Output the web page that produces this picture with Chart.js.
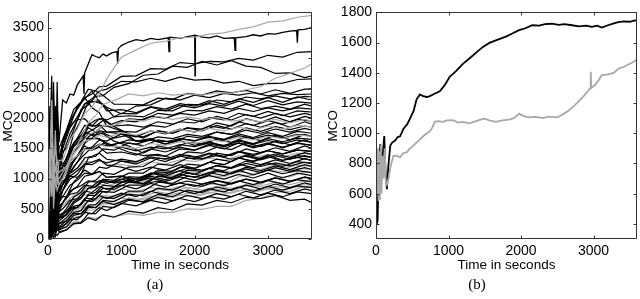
<!DOCTYPE html>
<html><head><meta charset="utf-8">
<script src="https://cdn.jsdelivr.net/npm/chart.js@4/dist/chart.umd.min.js"></script>
<style>
html,body{margin:0;padding:0;background:#fff;}
#wrap{position:relative;width:640px;height:299px;overflow:hidden;}
.cv{position:absolute;top:0;width:320px;height:299px;}
.cap{position:absolute;font-family:"Liberation Serif","DejaVu Serif",serif;font-size:15px;color:#000;transform:translate(-50%,-50%);}
</style></head>
<body><div id="wrap">
<div class="cv" style="left:0"><canvas id="ca" width="320" height="299"></canvas></div>
<div class="cv" style="left:320px"><canvas id="cb" width="320" height="299"></canvas></div>
<div class="cap" style="left:155px;top:284px">(a)</div>
<div class="cap" style="left:477px;top:284px">(b)</div>
</div>
<script>
// ---------- Panel (a) ----------
const timesA = [0,25,50,75,100,125,150,200,300,400,500,600,700,800,1000,1200,1400,1600,1800,2000,2200,2400,2600,2800,3000,3200,3400,3600];
const timesA2 = [0,25,50,75,100,125,150,250,350,450,550,650,750,900,1100,1300,1500,1700,1900,2100,2300,2500,2700,2900,3100,3300,3500,3600];
const timesTop = [0,25,50,75,100,125,150,200,250,300,350,400,480,490,500,550,600,650,700,750,800,870,940,950,960,1000,1100,1200,1300,1400,1500,1640,1650,1660,1800,1900,2000,2005,2010,2100,2200,2300,2400,2540,2550,2560,2700,2800,2900,3000,3100,3200,3300,3390,3400,3410,3500,3600];
const topBlack = [500,1800,900,2600,1200,2200,1600,2300,2250,2400,2380,2550,2700,2400,2750,2900,3050,3020,3000,3060,3030,3080,3100,2900,3150,3200,3260,3300,3280,3320,3300,3330,3100,3340,3320,3350,3370,2700,3370,3340,3330,3360,3320,3330,3120,3330,3350,3380,3360,3400,3390,3420,3440,3450,3250,3460,3470,3500];
const blackA = [
[300,1500,800,2400,1100,1700,1300,1600,1950,2150,2340,2400,2520,2530,2690,2700,2820,2810,2920,2900,2940,2930,2990,2960,3040,3010,3090,3100],
[900,400,2000,700,1500,900,1400,1500,1800,2140,2220,2360,2370,2510,2570,2710,2730,2860,2840,2940,2880,2950,2860,2840,2740,2750,2670,2700],
[200,1200,600,1800,900,2600,1000,1400,1740,1970,2230,2320,2450,2480,2610,2600,2660,2610,2680,2630,2640,2580,2610,2540,2570,2580,2640,2650],
[0,900,1600,500,2200,800,1500,1800,2140,2270,2480,2450,2380,2230,2230,2220,2330,2310,2410,2380,2450,2420,2460,2400,2470,2410,2480,2480],
[600,1900,300,1400,700,1800,1100,1600,1870,2190,2320,2450,2270,2180,2070,2200,2220,2330,2300,2380,2340,2410,2380,2420,2370,2410,2390,2400],
[1000,300,1300,2300,600,1200,900,1300,1740,1970,2280,2270,2230,2020,2040,2020,2130,2120,2230,2220,2300,2270,2350,2320,2370,2320,2360,2350],
[100,1100,700,1600,1200,500,1000,1200,1490,1670,1880,1870,1990,1970,2080,2070,2180,2120,2210,2170,2240,2200,2280,2210,2290,2220,2270,2250],
[700,200,1500,900,300,1400,800,1000,1290,1470,1690,1770,1880,1870,1990,1970,2080,2050,2130,2120,2190,2150,2230,2160,2200,2150,2230,2200],
[400,1300,200,1100,1700,600,700,900,1190,1370,1590,1670,1790,1770,1780,1770,1880,1850,1940,1920,2010,1970,2080,2030,2110,2040,2120,2100],
[1200,600,1800,400,1000,1600,1100,1100,1440,1570,1890,1970,1990,1860,1740,1670,1790,1750,1840,1820,1920,1870,1990,1930,2020,1940,2030,2000],
[300,800,1100,200,900,500,600,800,1090,1270,1490,1520,1640,1620,1740,1690,1790,1740,1820,1770,1870,1830,1940,1880,1960,1900,1980,1950],
[800,100,600,1400,400,1000,500,700,940,1070,1340,1370,1490,1470,1590,1540,1640,1600,1700,1670,1770,1730,1840,1780,1860,1810,1870,1850],
[1500,500,2100,800,1300,700,1200,1500,1940,2170,2340,2170,2090,1870,1790,1620,1640,1570,1660,1620,1700,1650,1740,1680,1760,1700,1780,1750],
[200,1000,400,1200,800,1500,900,1200,1540,1670,1840,1770,1740,1620,1540,1420,1540,1490,1600,1570,1650,1600,1690,1630,1720,1640,1730,1700],
[500,100,800,300,700,400,450,600,790,870,1040,1070,1190,1170,1290,1270,1390,1370,1490,1470,1570,1530,1640,1580,1660,1610,1670,1650],
[0,700,200,900,300,600,350,500,690,770,940,970,1090,1070,1190,1200,1340,1320,1440,1420,1520,1480,1590,1530,1620,1560,1640,1600],
[1100,400,1700,600,1300,800,900,1000,1290,1370,1540,1470,1520,1420,1440,1390,1490,1440,1520,1470,1550,1490,1590,1510,1570,1520,1580,1550],
[100,500,900,200,600,300,350,400,590,670,840,870,990,970,1090,1090,1240,1220,1340,1320,1420,1380,1490,1430,1510,1450,1540,1500],
[900,1500,300,1000,500,1100,800,900,1090,1170,1340,1370,1420,1320,1290,1240,1340,1280,1370,1320,1410,1360,1440,1380,1460,1410,1470,1450],
[300,0,600,400,200,500,250,350,490,570,740,770,890,870,990,990,1140,1120,1240,1220,1320,1280,1390,1330,1410,1350,1430,1400],
[600,1200,200,800,1000,400,700,800,990,1070,1240,1270,1320,1220,1190,1120,1190,1140,1230,1170,1270,1230,1340,1280,1360,1300,1380,1350],
[0,300,100,500,200,350,200,300,440,470,640,670,790,770,890,890,1040,1020,1140,1120,1220,1180,1290,1230,1310,1250,1330,1300],
[400,900,1300,300,800,600,600,700,890,970,1090,1070,1120,1020,1040,990,1090,1040,1130,1070,1170,1130,1240,1180,1260,1200,1280,1250],
[200,100,400,150,300,200,180,250,390,420,560,570,690,670,790,790,940,920,1040,1020,1120,1080,1190,1130,1210,1150,1230,1200],
[700,300,1000,500,600,400,550,600,740,770,890,870,960,920,990,940,1040,980,1070,1020,1100,1050,1140,1060,1140,1080,1130,1100],
[100,400,50,300,150,250,150,200,340,370,520,520,640,620,740,720,840,810,910,870,960,910,990,930,1010,950,1030,1000],
[500,200,800,100,600,300,450,500,640,670,790,770,870,820,890,830,920,860,930,870,940,880,960,900,970,910,980,950],
[0,200,100,300,50,200,120,150,260,270,420,420,540,520,640,620,740,700,810,770,860,810,890,830,910,850,930,900],
[300,600,100,700,200,500,350,400,520,520,640,620,720,670,760,700,790,730,810,750,830,780,860,790,870,810,880,850],
[100,0,300,100,400,200,250,300,420,420,540,520,620,570,660,610,690,630,720,670,750,700,790,730,810,750,830,800],
[0,150,50,200,100,150,150,200,320,320,440,420,520,470,590,550,640,590,670,620,700,660,740,680,760,700,780,750],
[50,0,100,20,80,60,100,150,250,260,350,310,400,360,460,430,520,480,580,560,640,600,690,670,720,640,660,600],
[200,500,300,700,400,300,350,350,490,520,670,670,790,770,940,950,1090,1070,1190,1170,1270,1230,1340,1290,1390,1300,1350,1300],
[1400,2000,900,1700,1100,1900,1200,1300,1540,1620,1740,1720,1760,1670,1720,1690,1790,1750,1840,1790,1880,1820,1910,1850,1930,1850,1940,1900],
[800,1700,500,1300,2000,900,1300,1600,1890,1970,1990,1870,1890,1770,1740,1620,1660,1570,1630,1550,1610,1530,1590,1530,1590,1510,1590,1550],
[400,100,700,250,500,300,300,400,540,570,720,720,840,820,940,920,1040,1000,1090,1050,1140,1080,1160,1100,1180,1120,1180,1150],
[1000,600,1400,700,900,1200,800,900,1040,1020,1140,1070,1120,1020,1040,950,1010,950,1030,970,1050,990,1070,1010,1090,1010,1090,1050],
[200,1400,600,1000,1900,700,1200,1300,1590,1720,1890,1870,1960,1870,1890,1850,1940,1900,1990,1940,2030,1970,2060,2000,2080,2020,2080,2050],
[500,1600,2700,900,1400,600,1300,1500,1840,2020,2240,2270,2290,2120,2140,2090,2190,2150,2240,2200,2290,2230,2320,2260,2340,2260,2350,2300],
[600,1100,300,1500,800,400,900,1000,1200,1340,1460,1500,1580,1560,1640,1610,1690,1660,1730,1700,1770,1730,1800,1750,1820,1770,1830,1800],
[1300,700,1900,1000,1500,1100,1000,1100,1380,1530,1670,1660,1660,1560,1520,1460,1520,1490,1560,1530,1590,1550,1620,1570,1630,1580,1640,1600],
[1700,900,2100,1200,600,1500,1100,1300,1580,1700,1760,1680,1620,1530,1440,1380,1400,1340,1390,1330,1380,1320,1370,1310,1380,1320,1380,1350],
[900,2200,400,1600,1200,2000,1000,1200,1450,1600,1740,1800,1880,1870,1960,1940,2030,2000,2080,2050,2120,2080,2160,2110,2170,2120,2170,2150],
[300,800,200,600,1000,500,400,450,620,690,840,860,960,940,1030,1020,1110,1090,1170,1140,1210,1170,1250,1200,1260,1210,1270,1250],
[1100,500,1400,900,700,1300,600,800,1040,1130,1240,1230,1300,1260,1320,1280,1360,1320,1400,1350,1420,1370,1450,1400,1460,1410,1470,1450],
[900,400,1200,600,800,500,700,700,830,880,960,940,980,930,970,910,960,900,960,910,970,920,990,940,1010,960,1020,1000],
[1000,1700,600,1400,900,1200,800,1000,1230,1370,1480,1500,1570,1540,1600,1570,1640,1610,1660,1630,1680,1640,1710,1660,1720,1670,1730,1700]
];
// upper gray curves (drawn beneath the black ones)
const grayUpperA = [
[600,1500,1000,700,1800,900,1300,1300,1640,1820,2080,2180,2400,2650,3010,3130,3240,3270,3330,3340,3390,3410,3470,3510,3590,3610,3670,3700],
[200,900,2300,500,1000,800,900,1100,1440,1680,1930,2040,2230,2290,2400,2370,2420,2380,2400,2380,2420,2410,2470,2520,2660,2740,2830,2900],
[1300,700,1600,900,1200,1000,1000,1100,1280,1380,1480,1480,1560,1530,1530,1500,1580,1550,1610,1580,1640,1610,1680,1640,1700,1660,1720,1700],
[1700,1000,2300,1200,1500,1300,1100,1200,1480,1580,1730,1780,1880,1880,1980,1950,2030,1980,2020,1980,2010,1950,1980,1940,1980,1920,1980,1950],
[1000,1500,700,1200,900,1100,900,1000,1300,1480,1620,1640,1720,1680,1760,1720,1790,1750,1810,1770,1830,1790,1850,1800,1870,1820,1880,1850]
];
// lower gray curves (drawn over the black ones)
const grayLowerA = [
[100,300,0,200,150,250,180,200,280,290,360,340,400,370,420,390,440,440,500,490,540,540,640,670,770,790,870,880],
[200,500,300,600,250,400,280,300,410,430,530,530,610,580,680,640,710,680,740,700,770,740,810,770,830,800,870,850],
[400,200,700,300,500,350,380,400,510,530,630,630,710,680,750,710,780,740,800,760,830,800,880,900,1030,1030,1110,1100],
[700,300,900,400,600,500,450,500,610,630,730,730,800,760,830,790,850,810,870,830,910,900,1030,1060,1180,1160,1220,1200],
[900,500,1200,600,800,700,550,600,730,780,880,880,960,930,1030,1000,1080,1050,1110,1080,1140,1110,1180,1150,1230,1200,1270,1250],
[600,1100,400,900,700,1000,800,900,1080,1180,1280,1280,1310,1230,1230,1200,1280,1240,1310,1280,1340,1300,1380,1340,1400,1360,1420,1400],
[300,100,500,200,400,250,220,250,360,380,480,480,580,580,680,650,730,690,760,730,790,760,830,800,870,840,910,900],
[500,800,300,1000,600,700,500,550,680,730,830,830,910,880,950,920,990,960,1020,980,1050,1030,1110,1080,1150,1110,1170,1150],
[200,600,150,400,300,500,250,300,450,520,620,650,720,700,780,760,820,790,850,810,870,840,900,870,940,900,960,950]
];
const xTicksA = [0,1000,2000,3000];
const yTicksA = [0,500,1000,1500,2000,2500,3000,3500];

// ---------- Panel (b) ----------
const timesB1 = [0,10,22,40,59,70,82,100,114,130,150,170,196,219,260,300,332,380,430,469,520,560,606,650,700,743,800,880,950,1016,1100,1198,1300,1381,1470,1564,1680,1792,1880,1974,2060,2156,2250,2330,2430,2520,2600,2703,2800,2900,2977,3050,3114,3200,3280,3342,3420,3500,3570,3600];
const blackB = [880,400,420,780,927,800,767,900,982,760,629,780,916,937,950,975,980,1030,1060,1097,1150,1225,1257,1245,1240,1246,1260,1278,1320,1374,1410,1459,1500,1534,1570,1598,1620,1640,1660,1683,1695,1715,1712,1722,1725,1718,1722,1715,1708,1712,1704,1712,1700,1715,1728,1736,1740,1738,1747,1745];
const timesB2 = [0,15,25,35,45,55,65,75,90,105,120,135,150,173,200,240,287,330,380,424,470,520,560,606,650,700,743,780,811,860,920,980,1062,1130,1200,1290,1380,1440,1495,1560,1655,1740,1837,1900,1974,2030,2100,2202,2300,2380,2430,2500,2580,2658,2750,2886,2940,2955,2962,2970,3023,3070,3114,3200,3280,3342,3420,3500,3560,3600];
const grayB = [850,600,900,550,880,560,920,600,850,700,900,680,660,700,780,850,852,840,870,873,900,920,940,958,980,1000,1012,1040,1076,1080,1075,1085,1086,1070,1075,1065,1080,1090,1097,1085,1076,1085,1090,1100,1130,1115,1105,1108,1100,1110,1108,1105,1125,1150,1190,1257,1290,1300,1407,1300,1321,1350,1385,1390,1400,1427,1440,1460,1475,1491];
const xTicksB = [0,1000,2000,3000];
const yTicksB = [400,600,800,1000,1200,1400,1600,1800];

const BLACK = '#000000', GRAY = '#a8a8a8';
const FONT = '"Liberation Sans", Arial, Helvetica, sans-serif';

function pts(ts, vs){ return ts.map((t,i)=>({x:t,y:vs[i]})); }

const framePlugin = {
  id:'frame',
  afterDatasetsDraw(chart){
    const {ctx, chartArea:a, scales:{x,y}} = chart;
    ctx.save();
    ctx.strokeStyle = '#333'; ctx.lineWidth = 1;
    const L = Math.round(a.left)+0.5, R = Math.round(a.right)-0.5, T = Math.round(a.top)+0.5, B = Math.round(a.bottom)-0.5;
    ctx.beginPath();
    ctx.rect(L, T, R-L, B-T);
    const tl = 3;
    x.ticks.forEach(tk=>{
      const p = Math.round(x.getPixelForValue(tk.value))+0.5;
      ctx.moveTo(p,B); ctx.lineTo(p,B-tl);
      ctx.moveTo(p,T); ctx.lineTo(p,T+tl);
    });
    y.ticks.forEach(tk=>{
      const p = Math.round(y.getPixelForValue(tk.value))+0.5;
      ctx.moveTo(L,p); ctx.lineTo(L+tl,p);
      ctx.moveTo(R,p); ctx.lineTo(R-tl,p);
    });
    ctx.stroke();
    ctx.restore();
  }
};

function makeOptions(cfg){
  return {
    responsive:false, animation:false, events:[],
    layout:{padding:{top:cfg.padTop, right:cfg.padRight, left:0, bottom:0}},
    plugins:{legend:{display:false}, tooltip:{enabled:false}},
    elements:{point:{radius:0}, line:{tension:0}},
    scales:{
      x:{type:'linear', min:0, max:3600,
         afterBuildTicks(s){ s.ticks = cfg.xTicks.map(v=>({value:v})); },
         afterFit(s){ s.height = 60; },
         grid:{display:false, drawTicks:false}, border:{display:false},
         ticks:{color:'#000', font:{family:FONT, size:14}, padding:4, maxRotation:0, autoSkip:false, callback:v=>String(v)},
         title:{display:true, text:'Time in seconds', color:'#000', font:{family:FONT, size:13.5}, padding:{top:0,bottom:26}}
      },
      y:{type:'linear', min:cfg.yMin, max:cfg.yMax,
         afterBuildTicks(s){ s.ticks = cfg.yTicks.map(v=>({value:v})); },
         afterFit(s){ s.width = cfg.yWidth; },
         grid:{display:false, drawTicks:false}, border:{display:false},
         ticks:{color:'#000', font:{family:FONT, size:14}, padding:4, autoSkip:false, callback:v=>String(v)},
         title:{display:true, text:'MCO', color:'#000', font:{family:FONT, size:13.5}, padding:{top:cfg.titlePad,bottom:0}}
      }
    }
  };
}

const dsA = [];
grayUpperA.forEach((v,i)=>dsA.push({data:pts(i%2?timesA2:timesA,v), borderColor:GRAY, borderWidth:1.2}));
blackA.forEach((v,i)=>dsA.push({data:pts(i%2?timesA2:timesA,v), borderColor:BLACK, borderWidth:1.2}));
grayLowerA.forEach((v,i)=>dsA.push({data:pts(i%2?timesA:timesA2,v), borderColor:GRAY, borderWidth:1.2}));
dsA.push({data:pts(timesTop,topBlack), borderColor:BLACK, borderWidth:1.3});

new Chart(document.getElementById('ca'), {
  type:'line',
  data:{datasets:dsA},
  options:makeOptions({padTop:5, padRight:8, yMin:0, yMax:3750, yWidth:48, titlePad:0, xTicks:xTicksA, yTicks:yTicksA}),
  plugins:[framePlugin]
});

new Chart(document.getElementById('cb'), {
  type:'line',
  data:{datasets:[
    {data:pts(timesB2,grayB), borderColor:GRAY, borderWidth:1.8},
    {data:pts(timesB1,blackB), borderColor:BLACK, borderWidth:1.8}
  ]},
  options:makeOptions({padTop:5, padRight:3, yMin:300, yMax:1800, yWidth:56, titlePad:5, xTicks:xTicksB, yTicks:yTicksB}),
  plugins:[framePlugin]
});
</script>
</body></html>
